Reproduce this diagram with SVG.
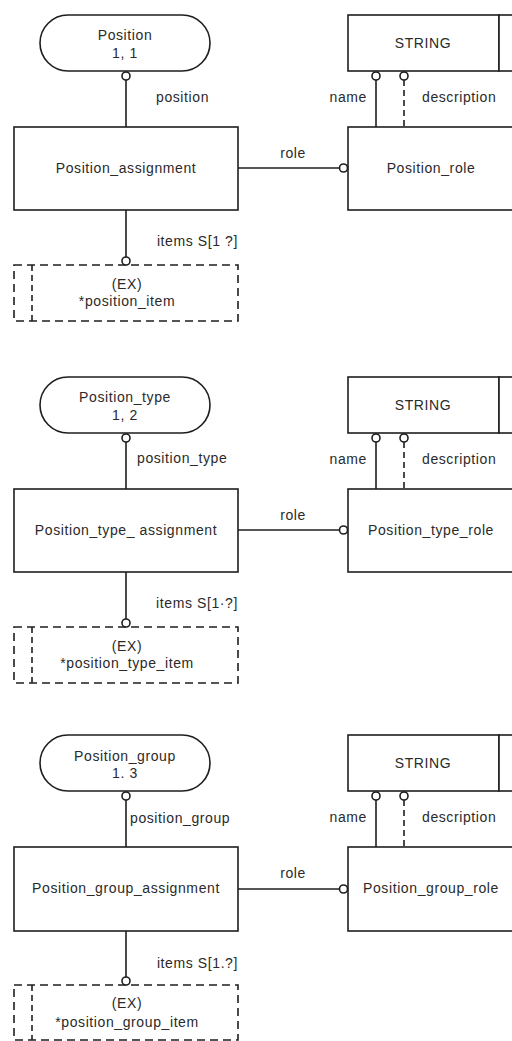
<svg xmlns="http://www.w3.org/2000/svg" width="512" height="1041" viewBox="0 0 512 1041">
<style>
.bg{fill:#ffffff}
.box{fill:#ffffff;stroke:#1e1e1e;stroke-width:1.6}
.dbox{fill:#ffffff;stroke:#1e1e1e;stroke-width:1.6;stroke-dasharray:8 5}
.ln{fill:none;stroke:#1e1e1e;stroke-width:1.6}
.dln{fill:none;stroke:#1e1e1e;stroke-width:1.6;stroke-dasharray:6 4}
.end{fill:#ffffff;stroke:#1e1e1e;stroke-width:1.6}
text{font-family:"Liberation Sans",Arial,sans-serif;font-size:14px;fill:#2a2a2a;letter-spacing:0.6px}
.c{text-anchor:middle}
.r{text-anchor:end}
</style>
<rect class="bg" x="0" y="0" width="512" height="1041"/>

<!-- ===== Section 1 ===== -->
<g id="position">
<rect class="box" x="40" y="15" width="170" height="56" rx="28"/>
<text class="c" x="125" y="40">Position</text>
<text class="c" x="125" y="58">1, 1</text>
</g>
<g id="position_assignment">
<rect class="box" x="14" y="127" width="224" height="83"/>
<text class="c" x="126" y="173">Position_assignment</text>
</g>
<g id="position_item">
<rect class="dbox" x="14" y="265" width="224" height="56"/>
<line class="dln" x1="32" y1="265" x2="32" y2="321"/>
<text class="c" x="127" y="289">(EX)</text>
<text class="c" x="127" y="306">*position_item</text>
</g>
<g id="string1">
<rect class="box" x="348" y="15" width="151" height="56"/>
<rect class="box" x="499" y="15" width="30" height="56"/>
<text class="c" x="423" y="48">STRING</text>
</g>
<g id="position_role">
<rect class="box" x="348" y="127" width="180" height="83"/>
<text class="c" x="431" y="173">Position_role</text>
</g>

<!-- ===== Section 2 ===== -->
<g id="position_type">
<rect class="box" x="40" y="377" width="170" height="56" rx="28"/>
<text class="c" x="125" y="402">Position_type</text>
<text class="c" x="125" y="420">1, 2</text>
</g>
<g id="position_type_assignment">
<rect class="box" x="14" y="489" width="224" height="83"/>
<text class="c" x="126" y="535">Position_type_ assignment</text>
</g>
<g id="position_type_item">
<rect class="dbox" x="14" y="627" width="224" height="56"/>
<line class="dln" x1="32" y1="627" x2="32" y2="683"/>
<text class="c" x="127" y="651">(EX)</text>
<text class="c" x="127" y="668">*position_type_item</text>
</g>
<g id="string2">
<rect class="box" x="348" y="377" width="151" height="56"/>
<rect class="box" x="499" y="377" width="30" height="56"/>
<text class="c" x="423" y="410">STRING</text>
</g>
<g id="position_type_role">
<rect class="box" x="348" y="489" width="180" height="83"/>
<text class="c" x="431" y="535">Position_type_role</text>
</g>

<!-- ===== Section 3 ===== -->
<g id="position_group">
<rect class="box" x="40" y="735" width="170" height="56" rx="28"/>
<text class="c" x="125" y="761">Position_group</text>
<text class="c" x="125" y="778">1. 3</text>
</g>
<g id="position_group_assignment">
<rect class="box" x="14" y="847" width="224" height="84"/>
<text class="c" x="126" y="893">Position_group_assignment</text>
</g>
<g id="position_group_item">
<rect class="dbox" x="14" y="985" width="224" height="55"/>
<line class="dln" x1="32" y1="985" x2="32" y2="1040"/>
<text class="c" x="127" y="1008">(EX)</text>
<text class="c" x="127" y="1027">*position_group_item</text>
</g>
<g id="string3">
<rect class="box" x="348" y="735" width="151" height="56"/>
<rect class="box" x="499" y="735" width="30" height="56"/>
<text class="c" x="423" y="768">STRING</text>
</g>
<g id="position_group_role">
<rect class="box" x="348" y="847" width="180" height="84"/>
<text class="c" x="431" y="893">Position_group_role</text>
</g>

<!-- ===== Connectors ===== -->
<g id="connectors">
<!-- section 1 -->
<line class="ln" x1="126" y1="80" x2="126" y2="127"/>
<circle class="end" cx="126" cy="76" r="4"/>
<text x="156" y="102">position</text>
<line class="ln" x1="126" y1="210" x2="126" y2="257"/>
<circle class="end" cx="126" cy="261" r="4"/>
<text class="r" x="238" y="246">items S[1 ?]</text>
<line class="ln" x1="238" y1="168" x2="339" y2="168"/>
<circle class="end" cx="343.5" cy="168" r="4"/>
<text class="c" x="293" y="158">role</text>
<line class="ln" x1="376" y1="80" x2="376" y2="127"/>
<circle class="end" cx="376" cy="76" r="4"/>
<line class="dln" x1="404" y1="80" x2="404" y2="127"/>
<circle class="end" cx="404" cy="76" r="4"/>
<text class="r" x="367" y="102">name</text>
<text x="422" y="102">description</text>

<!-- section 2 -->
<line class="ln" x1="126" y1="442" x2="126" y2="489"/>
<circle class="end" cx="126" cy="438" r="4"/>
<text x="137" y="463">position_type</text>
<line class="ln" x1="126" y1="572" x2="126" y2="619"/>
<circle class="end" cx="126" cy="623" r="4"/>
<text class="r" x="238" y="608">items S[1·?]</text>
<line class="ln" x1="238" y1="530" x2="339" y2="530"/>
<circle class="end" cx="343.5" cy="530" r="4"/>
<text class="c" x="293" y="520">role</text>
<line class="ln" x1="376" y1="442" x2="376" y2="489"/>
<circle class="end" cx="376" cy="438" r="4"/>
<line class="dln" x1="404" y1="442" x2="404" y2="489"/>
<circle class="end" cx="404" cy="438" r="4"/>
<text class="r" x="367" y="464">name</text>
<text x="422" y="464">description</text>

<!-- section 3 -->
<line class="ln" x1="126" y1="800" x2="126" y2="847"/>
<circle class="end" cx="126" cy="796" r="4"/>
<text x="130" y="823">position_group</text>
<line class="ln" x1="126" y1="931" x2="126" y2="977"/>
<circle class="end" cx="126" cy="981" r="4"/>
<text class="r" x="238" y="968">items S[1.?]</text>
<line class="ln" x1="238" y1="889" x2="339" y2="889"/>
<circle class="end" cx="343.5" cy="889" r="4"/>
<text class="c" x="293" y="878">role</text>
<line class="ln" x1="376" y1="800" x2="376" y2="847"/>
<circle class="end" cx="376" cy="796" r="4"/>
<line class="dln" x1="404" y1="800" x2="404" y2="847"/>
<circle class="end" cx="404" cy="796" r="4"/>
<text class="r" x="367" y="822">name</text>
<text x="422" y="822">description</text>
</g>
</svg>
